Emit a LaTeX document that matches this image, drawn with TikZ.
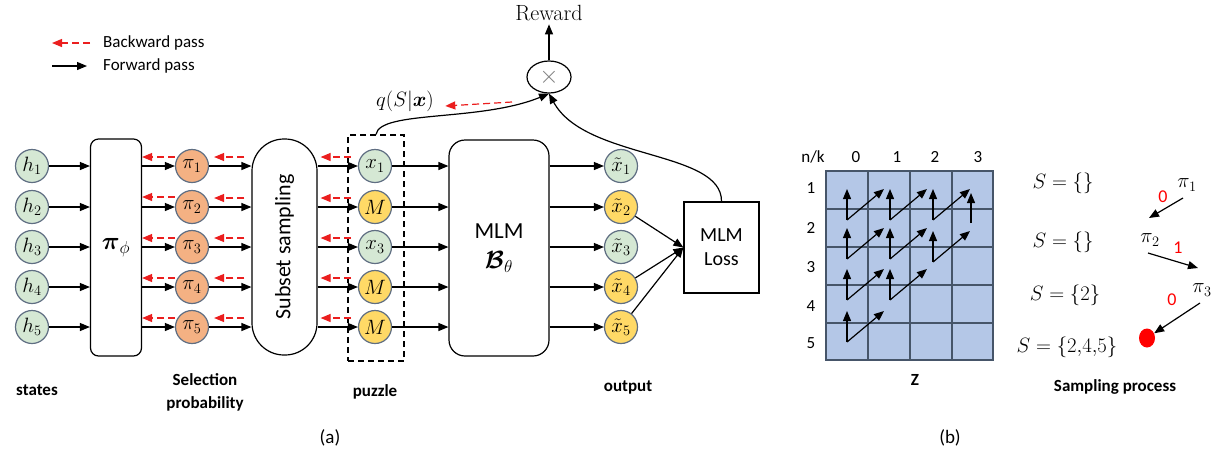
\documentclass[tikz,border=0pt]{standalone}
\usepackage{amsmath}
\usepackage{amssymb}
\usepackage{fontspec}
\setsansfont{Carlito}
\usepackage{tikz}
\definecolor{stategreen}{RGB}{213,232,212}
\definecolor{proborange}{RGB}{244,177,131}
\definecolor{maskyellow}{RGB}{255,217,102}
\definecolor{nodeedge}{RGB}{95,110,130}
\definecolor{gridblue}{RGB}{180,199,231}
\definecolor{gridedge}{RGB}{70,85,105}
\definecolor{backred}{RGB}{235,30,30}
\usetikzlibrary{arrows.meta}
\usetikzlibrary{shapes.geometric}
\usetikzlibrary{calc}
\tikzset{
  tok/.style={circle, minimum size=33pt, inner sep=0pt, line width=1.2pt, draw=nodeedge, font=\fontsize{20}{22}\selectfont},
  greentok/.style={tok, fill=stategreen},
  orangetok/.style={tok, fill=proborange},
  yellowtok/.style={tok, fill=maskyellow},
  fwd/.style={line width=1.2pt, -{Triangle[length=10pt,width=8pt]}},
  bwd/.style={line width=1.2pt, color=backred, dash pattern=on 7pt off 4pt, -{Triangle[length=10pt,width=8pt]}},
  block/.style={draw, line width=1.2pt, inner sep=0pt},
  sanstxt/.style={font=\sffamily\fontsize{17}{20}\selectfont},
  bottomlabel/.style={font=\sffamily\bfseries\fontsize{17}{23}\selectfont, align=center},
  mathtxt/.style={font=\fontsize{20}{22}\selectfont},
  digit/.style={font=\sffamily\fontsize{18}{20}\selectfont, text=red},
}

\begin{document}
\begin{tikzpicture}
\useasboundingbox (0pt,0pt) rectangle (1225pt,-459pt);
% legend
\node (bwdtxt) [sanstxt, anchor=west, inner sep=0pt] at (103pt,-43pt) {Backward pass};
\node (fwdtxt) [sanstxt, anchor=west, inner sep=0pt] at (103pt,-66pt) {Forward pass};
\draw [bwd] ([xshift=-13pt]bwdtxt.west) -- ([xshift=-51pt]bwdtxt.west);
\draw [fwd] ([xshift=-51pt]fwdtxt.west) -- ([xshift=-16pt]fwdtxt.west);
% (a) nodes
\node (h1) [greentok] at (32pt, -166pt) {$h_1$};
\node (h2) [greentok] at (32pt, -207pt) {$h_2$};
\node (h3) [greentok] at (32pt, -247pt) {$h_3$};
\node (h4) [greentok] at (32pt, -287pt) {$h_4$};
\node (h5) [greentok] at (32pt, -327pt) {$h_5$};
\node (pol) [block, rounded corners=8pt, minimum width=51pt, minimum height=217pt, font=\fontsize{25}{27}\selectfont] at (116pt, -247.5pt) {$\boldsymbol{\pi}_\phi$};
\node (p1) [orangetok] at (192pt, -166pt) {$\pi_1$};
\node (p2) [orangetok] at (192pt, -207pt) {$\pi_2$};
\node (p3) [orangetok] at (192pt, -247pt) {$\pi_3$};
\node (p4) [orangetok] at (192pt, -287pt) {$\pi_4$};
\node (p5) [orangetok] at (192pt, -327pt) {$\pi_5$};
\node (sub) [block, rounded corners=32pt, minimum width=65pt, minimum height=216pt] at (284.5pt, -247pt) {};
\node (subtxt) [rotate=90, font=\sffamily\fontsize{22}{24}\selectfont] at (sub.center) {Subset sampling};
\node (puz) [draw, line width=1.2pt, dash pattern=on 6pt off 4pt, minimum width=56pt, minimum height=226pt] at (376pt, -248pt) {};
\node (x1) [greentok] at (375pt, -166pt) {$x_1$};
\node (m2) [yellowtok] at (375pt, -207pt) {$M$};
\node (x3) [greentok] at (375pt, -247pt) {$x_3$};
\node (m4) [yellowtok] at (375pt, -287pt) {$M$};
\node (m5) [yellowtok] at (375pt, -327pt) {$M$};
\node (mlm) [block, rounded corners=16pt, minimum width=100pt, minimum height=216pt, align=center, font=\sffamily\fontsize{23}{30}\selectfont] at (499pt, -248pt) {MLM\\$\boldsymbol{\mathcal{B}}_\theta$};
\node (o1) [greentok] at (621pt, -166pt) {$\tilde{x}_1$};
\node (o2) [yellowtok] at (621pt, -207pt) {$\tilde{x}_2$};
\node (o3) [greentok] at (621pt, -247pt) {$\tilde{x}_3$};
\node (o4) [yellowtok] at (621pt, -287pt) {$\tilde{x}_4$};
\node (o5) [yellowtok] at (621pt, -327pt) {$\tilde{x}_5$};
\node (loss) [block, minimum width=75pt, minimum height=91pt, align=center, font=\sffamily\fontsize{20}{24}\selectfont] at (721.5pt, -247.5pt) {MLM\\Loss};
\node (mul) [ellipse, draw, line width=1.2pt, minimum width=44pt, minimum height=32pt, inner sep=0pt, text=gray, font=\fontsize{24}{24}\selectfont] at (549pt, -77pt) {$\times$};
\node (rew) [font=\fontsize{22}{24}\selectfont] at (549pt, -13pt) {Reward};
\node (qlab) [mathtxt] at (405pt, -101pt) {$q(S|\boldsymbol{x})$};
\coordinate (qtail) at (512pt, -102pt);
% forward arrows
\draw [fwd] (h1) -- (h1 -| pol.west);
\draw [fwd] (h2) -- (h2 -| pol.west);
\draw [fwd] (h3) -- (h3 -| pol.west);
\draw [fwd] (h4) -- (h4 -| pol.west);
\draw [fwd] (h5) -- (h5 -| pol.west);
\draw [fwd] (pol.east |- p1) -- (p1);
\draw [fwd] (pol.east |- p2) -- (p2);
\draw [fwd] (pol.east |- p3) -- (p3);
\draw [fwd] (pol.east |- p4) -- (p4);
\draw [fwd] (pol.east |- p5) -- (p5);
\draw [fwd] (p1) -- (p1 -| sub.west);
\draw [fwd] (p2) -- (p2 -| sub.west);
\draw [fwd] (p3) -- (p3 -| sub.west);
\draw [fwd] (p4) -- (p4 -| sub.west);
\draw [fwd] (p5) -- (p5 -| sub.west);
\draw [fwd] (sub.east |- x1) -- (x1);
\draw [fwd] (sub.east |- m2) -- (m2);
\draw [fwd] (sub.east |- x3) -- (x3);
\draw [fwd] (sub.east |- m4) -- (m4);
\draw [fwd] (sub.east |- m5) -- (m5);
\draw [fwd] (x1) -- (x1 -| mlm.west);
\draw [fwd] (m2) -- (m2 -| mlm.west);
\draw [fwd] (x3) -- (x3 -| mlm.west);
\draw [fwd] (m4) -- (m4 -| mlm.west);
\draw [fwd] (m5) -- (m5 -| mlm.west);
\draw [fwd] (mlm.east |- o1) -- (o1);
\draw [fwd] (mlm.east |- o2) -- (o2);
\draw [fwd] (mlm.east |- o3) -- (o3);
\draw [fwd] (mlm.east |- o4) -- (o4);
\draw [fwd] (mlm.east |- o5) -- (o5);
\draw [fwd] (o2) -- (loss.west);
\draw [fwd] (o4) -- (loss.west);
\draw [fwd] (o5) -- (loss.west);
\draw [fwd] (puz.north) .. controls (380pt, -110pt) and (480pt, -122pt) .. (mul.south);
\draw [fwd] (loss.north) .. controls (722pt, -150pt) and (585pt, -160pt) .. (mul.south);
\draw [fwd] (mul) -- (rew);
% backward arrows
\draw [bwd] ([yshift=9pt]p1.west) -- ([yshift=9pt]pol.east |- p1);
\draw [bwd] ([yshift=10pt]p2.west) -- ([yshift=10pt]pol.east |- p2);
\draw [bwd] ([yshift=9pt]p3.west) -- ([yshift=9pt]pol.east |- p3);
\draw [bwd] ([yshift=9pt]p4.west) -- ([yshift=9pt]pol.east |- p4);
\draw [bwd] ([yshift=9pt]p5.west) -- ([yshift=9pt]pol.east |- p5);
\draw [bwd] ([xshift=-7pt, yshift=9pt]sub.west |- p1) -- ([xshift=5pt, yshift=9pt]p1.east);
\draw [bwd] ([xshift=-7pt, yshift=9pt]sub.west |- p2) -- ([xshift=5pt, yshift=9pt]p2.east);
\draw [bwd] ([xshift=-7pt, yshift=9pt]sub.west |- p3) -- ([xshift=5pt, yshift=9pt]p3.east);
\draw [bwd] ([xshift=-7pt, yshift=9pt]sub.west |- p4) -- ([xshift=5pt, yshift=9pt]p4.east);
\draw [bwd] ([xshift=-7pt, yshift=9pt]sub.west |- p5) -- ([xshift=5pt, yshift=9pt]p5.east);
\draw [bwd] ([xshift=-7pt, yshift=9pt]x1.west) -- ([xshift=3pt, yshift=9pt]sub.east |- x1);
\draw [bwd] ([xshift=-7pt, yshift=9pt]m2.west) -- ([xshift=3pt, yshift=9pt]sub.east |- m2);
\draw [bwd] ([xshift=-7pt, yshift=9pt]x3.west) -- ([xshift=3pt, yshift=9pt]sub.east |- x3);
\draw [bwd] ([xshift=-7pt, yshift=9pt]m4.west) -- ([xshift=3pt, yshift=9pt]sub.east |- m4);
\draw [bwd] ([xshift=-7pt, yshift=9pt]m5.west) -- ([xshift=3pt, yshift=9pt]sub.east |- m5);
\draw [bwd] (qtail) -- ([xshift=8pt, yshift=-5pt]qlab.east);
% bottom labels
\node (lstates) [bottomlabel] at (37pt, -390pt) {states};
\node (lsel) [bottomlabel] at (205pt, -392pt) {Selection\\probability};
\node (lpuz) [bottomlabel] at (375pt, -392pt) {puzzle};
\node (lout) [bottomlabel] at (628pt, -387pt) {output};
\node (la) [sanstxt, font=\sffamily\fontsize{19}{22}\selectfont] at (330pt, -438pt) {(a)};
\node (lb) [sanstxt, font=\sffamily\fontsize{19}{22}\selectfont] at (950pt, -438pt) {(b)};
% (b) grid
\node (zgrid) [draw=gridedge, fill=gridblue, line width=1.5pt, minimum width=167pt, minimum height=189pt, inner sep=0pt] at (909.5pt, -265.5pt) {};
\foreach \gx in {868, 910, 952}
  \draw [gridedge, line width=1.5pt] (\gx pt, -171pt) -- (\gx pt, -360pt);
\foreach \gy in {209, 247, 285, 323}
  \draw [gridedge, line width=1.5pt] (826pt, -\gy pt) -- (993pt, -\gy pt);
\node (nk) [sanstxt] at (813pt, -157pt) {n/k};
\node (k0) [sanstxt] at (856pt, -157pt) {0};
\node (k1) [sanstxt] at (897pt, -157pt) {1};
\node (k2) [sanstxt] at (935pt, -157pt) {2};
\node (k3) [sanstxt] at (978pt, -157pt) {3};
\node (n1) [sanstxt] at (811pt, -188pt) {1};
\node (n2) [sanstxt] at (811pt, -228pt) {2};
\node (n3) [sanstxt] at (811pt, -267pt) {3};
\node (n4) [sanstxt] at (811pt, -306pt) {4};
\node (n5) [sanstxt] at (811pt, -343pt) {5};
\foreach \bx/\by in {847/220, 890/220, 933/220, 847/259, 890/259, 933/262, 847/300, 890/300, 847/342} {
  \draw [fwd] (\bx pt, -\by pt) -- (\bx pt, -\by pt + 31pt);
  \draw [fwd] (\bx pt, -\by pt) -- (\bx pt + 37pt, -\by pt + 31pt);
}
\draw [fwd] (971pt, -223pt) -- (971pt, -193pt);
\node (lz) [bottomlabel] at (915pt, -380pt) {Z};
% (b) sampling process
\node (s1) [mathtxt] at (1063pt, -183pt) {$S=\{\}$};
\node (s2) [mathtxt] at (1063pt, -242pt) {$S=\{\}$};
\node (s3) [mathtxt] at (1065pt, -295pt) {$S=\{2\}$};
\node (s4) [mathtxt] at (1067pt, -347pt) {$S=\{2{,}4{,}5\}$};
\node (sp1) [mathtxt] at (1187pt, -185pt) {$\pi_1$};
\node (sp2) [mathtxt] at (1150pt, -240pt) {$\pi_2$};
\node (sp3) [mathtxt] at (1202pt, -290pt) {$\pi_3$};
\node (d1) [digit] at (1163pt, -197pt) {0};
\node (d2) [digit] at (1178pt, -248pt) {1};
\node (d3) [digit] at (1172pt, -300pt) {0};
\node (dot) [ellipse, fill=red, minimum width=16pt, minimum height=19pt, inner sep=0pt] at (1147pt, -338pt) {};
\draw [fwd] ($(sp1)+(-4pt,-13pt)$) -- ($(sp2)+(-1pt,22pt)$);
\draw [fwd] ($(sp2)+(-2pt,-13pt)$) -- ($(sp3)+(-4pt,22pt)$);
\draw [fwd] ($(sp3)+(-2pt,-13pt)$) -- (dot);
\node (lsp) [bottomlabel] at (1115pt, -387pt) {Sampling process};
\end{tikzpicture}
\end{document}
